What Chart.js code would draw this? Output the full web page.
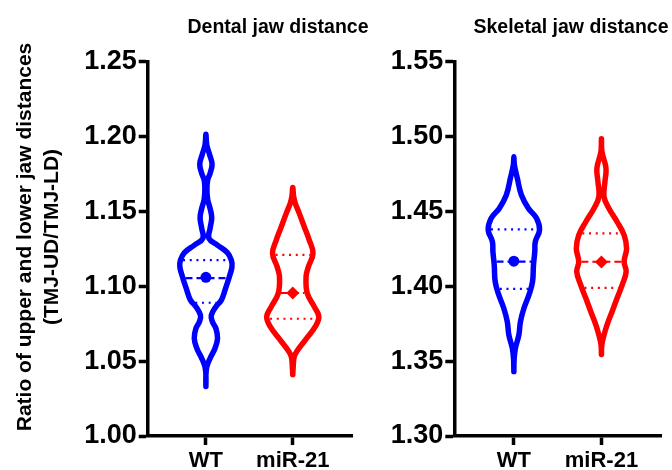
<!DOCTYPE html>
<html><head><meta charset="utf-8">
<script src="https://cdn.jsdelivr.net/npm/chart.js@4/dist/chart.umd.min.js"></script>
<style>
html,body{margin:0;padding:0;background:#fff;overflow:hidden;width:672px;height:470px;position:relative;}
canvas{position:absolute;top:0;}
#c1{left:0px}
#c2{left:372px}
</style></head><body>
<canvas id="c1" width="372" height="480"></canvas>
<canvas id="c2" width="300" height="480"></canvas>
<script>
// ---------- data ----------
const categories = ['WT', 'miR-21'];
const panelTitles = ['Dental jaw distance', 'Skeletal jaw distance'];
const yAxisTitle = ['Ratio of upper and lower jaw distances', '(TMJ-UD/TMJ-LD)'];
const dentalTicks = [1.00, 1.05, 1.10, 1.15, 1.20, 1.25];
const skeletalTicks = [1.30, 1.35, 1.40, 1.45, 1.50, 1.55];

// violin outlines: values and half-widths (density)
const dentalWT_y = [1.033,1.0407,1.0463,1.0519,1.0586,1.0652,1.0719,1.0763,1.0805,1.0864,1.0908,1.0975,1.1064,1.113,1.1175,1.1225,1.1275,1.132,1.1387,1.1458,1.152,1.158,1.165,1.171,1.1754,1.1815,1.1877,1.1944,1.2015];
const dentalWT_w = [0,0,0.011,0.048,0.105,0.134,0.115,0.075,0.062,0.115,0.178,0.22,0.27,0.30,0.293,0.247,0.132,0.035,0.048,0.067,0.048,0.02,0.012,0.02,0.048,0.071,0.044,0.01,0];
const dentalMiR_y = [1.041,1.0463,1.053,1.0574,1.0641,1.073,1.0797,1.0864,1.0953,1.1064,1.113,1.122,1.1309,1.1398,1.1487,1.1554,1.160,1.166];
const dentalMiR_w = [0,0.005,0.017,0.057,0.144,0.259,0.30,0.247,0.167,0.153,0.18,0.233,0.19,0.132,0.075,0.029,0.01,0];
const skelWT_y = [1.343,1.351,1.3585,1.3674,1.3763,1.3853,1.3942,1.403,1.4142,1.4231,1.4298,1.4376,1.4454,1.452,1.461,1.4721,1.481,1.4865];
const skelWT_w = [0,0.003,0.017,0.057,0.075,0.115,0.172,0.213,0.224,0.239,0.245,0.293,0.259,0.167,0.086,0.04,0.006,0];
const skelMiR_y = [1.3545,1.361,1.3674,1.3741,1.383,1.392,1.4008,1.4097,1.4164,1.4253,1.4342,1.4431,1.452,1.4598,1.4699,1.4788,1.4899,1.4985];
const skelMiR_w = [0,0.005,0.029,0.063,0.121,0.178,0.236,0.282,0.259,0.287,0.259,0.178,0.086,0.029,0.04,0.052,0.006,0];

// quartiles / medians / central markers  [WT, miR-21]
const dentalQ1 = [1.089, 1.0783];
const dentalMedian = [1.1055, 1.0955];
const dentalQ3 = [1.1175, 1.121];
const dentalMarker = [1.106, 1.0955];
const skelQ1 = [1.3982, 1.3990];
const skelMedian = [1.4165, 1.4164];
const skelQ3 = [1.438, 1.4354];
const skelMarker = [1.4168, 1.4162];

// ---------- helpers ----------
const BLUE = '#0000ff', RED = '#ff0000';
const FONT = '"Liberation Sans", Arial, Helvetica, sans-serif';

function outline(c, ys, ws) {
  const left = ys.map((y, i) => ({x: c - ws[i], y}));
  const right = [];
  for (let i = ys.length - 2; i >= 0; i--) right.push({x: c + ws[i], y: ys[i]});
  return left.concat(right);
}
function widthAt(ys, ws, v) {
  for (let i = 0; i < ys.length - 1; i++) {
    if (v >= ys[i] && v <= ys[i + 1]) {
      const t = (v - ys[i]) / (ys[i + 1] - ys[i]);
      return ws[i] + t * (ws[i + 1] - ws[i]);
    }
  }
  return 0;
}

function buildDatasets(violins, q1, med, q3, marks) {
  const ds = [];
  const colors = [BLUE, RED];
  const inset = 0.03;
  violins.forEach((v, i) => {
    ds.push({
      data: outline(i, v[0], v[1]), showLine: true, fill: false,
      borderColor: colors[i], borderWidth: 5.5, tension: 0.4,
      borderJoinStyle: 'round', borderCapStyle: 'round',
      pointRadius: 0, order: 3
    });
    const seg = (val, dash, lw) => {
      const w = Math.max(widthAt(v[0], v[1], val) - inset, 0);
      return {
        data: [{x: i - w, y: val}, {x: i + w, y: val}], showLine: true, fill: false,
        borderColor: colors[i], borderWidth: lw, borderDash: dash, borderCapStyle: 'butt',
        pointRadius: 0, order: 2
      };
    };
    ds.push(seg(q1[i], [2, 4.7], 2.2));
    ds.push(seg(q3[i], [2, 4.7], 2.2));
    ds.push(seg(med[i], [7, 4], 2.2));
    ds.push({
      data: [{x: i, y: marks[i]}], showLine: false,
      pointStyle: i === 0 ? 'circle' : 'rectRot',
      pointRadius: i === 0 ? 5.5 : 6.5,
      pointBackgroundColor: colors[i], pointBorderColor: colors[i], pointBorderWidth: 0,
      order: 1
    });
  });
  return ds;
}

const textPlugin = {
  id: 'panelText',
  afterDraw(chart, args, opts) {
    const ctx = chart.ctx;
    ctx.save();
    ctx.fillStyle = '#000';
    ctx.font = 'bold 19.5px ' + FONT;
    ctx.textAlign = 'center';
    ctx.textBaseline = 'alphabetic';
    ctx.fillText(opts.title, opts.titleX, opts.titleY);
    if (opts.yTitle) {
      ctx.translate(opts.yTitleX, opts.yTitleY);
      ctx.rotate(-Math.PI / 2);
      ctx.font = 'bold 21px ' + FONT;
      ctx.textBaseline = 'middle';
      opts.yTitle.forEach((t, k) => ctx.fillText(t, 0, k * 27));
    }
    ctx.restore();
  }
};

function makeChart(id, cfg) {
  return new Chart(document.getElementById(id), {
    type: 'scatter',
    data: {datasets: buildDatasets(cfg.violins, cfg.q1, cfg.med, cfg.q3, cfg.marks)},
    plugins: [textPlugin],
    options: {
      responsive: false, animation: false, devicePixelRatio: 1,
      layout: {padding: cfg.padding},
      plugins: {
        legend: {display: false}, tooltip: {enabled: false},
        panelText: cfg.text
      },
      scales: {
        x: {
          type: 'linear', min: cfg.xMin, max: cfg.xMax,
          afterBuildTicks: s => { s.ticks = categories.map((c, i) => ({value: i})); },
          afterFit: s => { s.height = 44; },
          ticks: {
            autoSkip: false, padding: 3, color: '#000',
            font: {family: FONT, size: 22, weight: 'bold'},
            callback: (v, i) => categories[i]
          },
          grid: {display: true, drawOnChartArea: false, drawTicks: true, tickLength: 9, tickWidth: 3.5, tickColor: '#000'},
          border: {display: true, color: '#000', width: 3.5}
        },
        y: {
          type: 'linear', min: cfg.ticks[0], max: cfg.ticks[cfg.ticks.length - 1],
          afterBuildTicks: s => { s.ticks = cfg.ticks.map(v => ({value: v})); },
          afterFit: s => { s.width = cfg.yWidth; },
          ticks: {
            autoSkip: false, padding: 2, color: '#000',
            font: {family: FONT, size: 27, weight: 'bold'},
            callback: v => Number(v).toFixed(2)
          },
          grid: {display: true, drawOnChartArea: false, drawTicks: true, tickLength: 9, tickWidth: 3.5, tickColor: '#000'},
          border: {display: true, color: '#000', width: 3.5}
        }
      }
    }
  });
}

makeChart('c1', {
  violins: [[dentalWT_y, dentalWT_w], [dentalMiR_y, dentalMiR_w]],
  q1: dentalQ1, med: dentalMedian, q3: dentalQ3, marks: dentalMarker,
  ticks: dentalTicks, xMin: -0.67, xMax: 1.69, yWidth: 147.7,
  padding: {top: 61.7, right: 19.3, left: 0, bottom: 0},
  text: {title: panelTitles[0], titleX: 278, titleY: 33.3,
         yTitle: yAxisTitle, yTitleX: 25, yTitleY: 237}
});
makeChart('c2', {
  violins: [[skelWT_y, skelWT_w], [skelMiR_y, skelMiR_w]],
  q1: skelQ1, med: skelMedian, q3: skelQ3, marks: skelMarker,
  ticks: skeletalTicks, xMin: -0.68, xMax: 1.68, yWidth: 82.3,
  padding: {top: 61.7, right: 11, left: 0, bottom: 0},
  text: {title: panelTitles[1], titleX: 199, titleY: 33.3}
});
</script>
</body></html>
